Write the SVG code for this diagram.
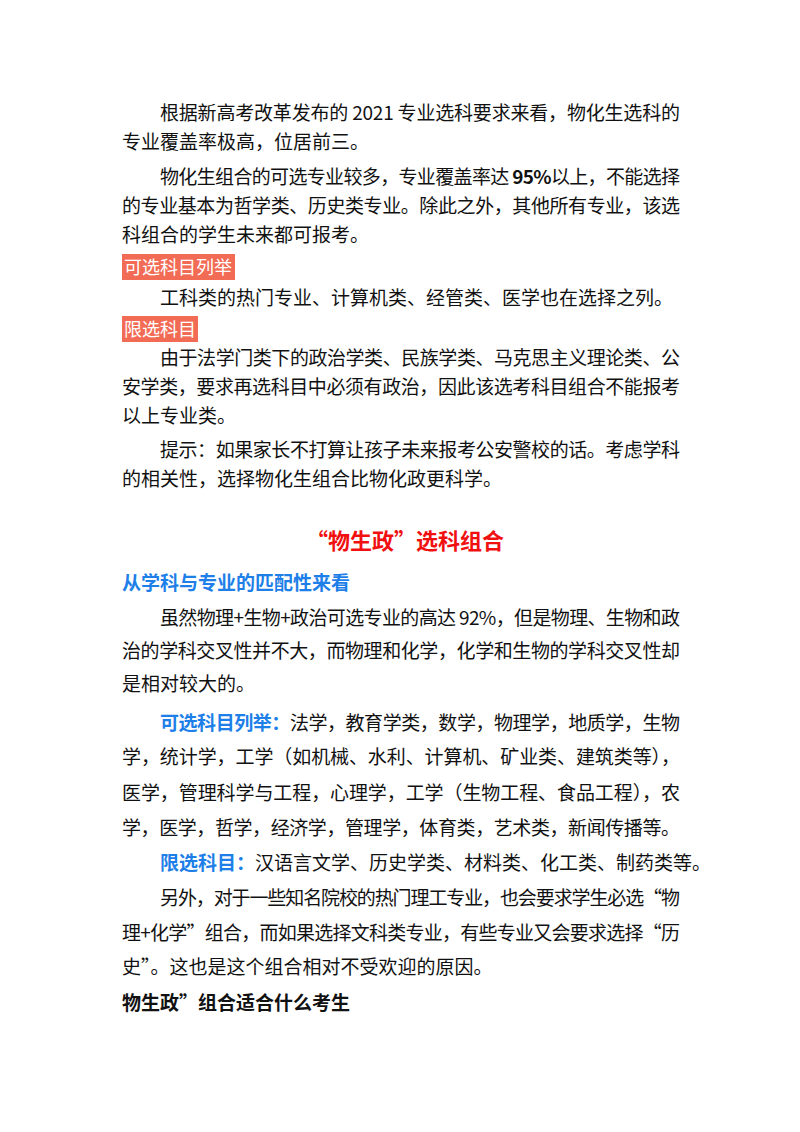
<svg xmlns="http://www.w3.org/2000/svg" width="800" height="1132" viewBox="0 0 800 1132">
<style>
text{font-family:"Noto Sans CJK SC","Liberation Sans",sans-serif;font-size:19px;fill:#111}
.b{font-weight:bold}
.tag{fill:#fff;font-size:18px}
.blue{fill:#1E7FE8;font-weight:bold}
.red{fill:#F01010;font-weight:bold;font-size:22px}
</style>
<rect width="800" height="1132" fill="#fff"/>
<text x="160" y="120" textLength="520" lengthAdjust="spacing">根据新高考改革发布的 2021 专业选科要求来看，物化生选科的</text>
<text x="122" y="149">专业覆盖率极高，位居前三。</text>
<text x="160" y="184" textLength="520" lengthAdjust="spacing">物化生组合的可选专业较多，专业覆盖率达 <tspan class="b">95%</tspan>以上，不能选择</text>
<text x="122" y="213" textLength="558" lengthAdjust="spacing">的专业基本为哲学类、历史类专业。除此之外，其他所有专业，该选</text>
<text x="122" y="242">科组合的学生未来都可报考。</text>
<rect x="122" y="254" width="113" height="26" fill="#F26B55"/>
<text class="tag" x="124" y="274">可选科目列举</text>
<text x="160" y="305">工科类的热门专业、计算机类、经管类、医学也在选择之列。</text>
<rect x="122" y="316" width="76" height="26" fill="#F26B55"/>
<text class="tag" x="124" y="336">限选科目</text>
<text x="160" y="365" textLength="520" lengthAdjust="spacing">由于法学门类下的政治学类、民族学类、马克思主义理论类、公</text>
<text x="122" y="394" textLength="558" lengthAdjust="spacing">安学类，要求再选科目中必须有政治，因此该选考科目组合不能报考</text>
<text x="122" y="423">以上专业类。</text>
<text x="160" y="457" textLength="520" lengthAdjust="spacing">提示：如果家长不打算让孩子未来报考公安警校的话。考虑学科</text>
<text x="122" y="486">的相关性，选择物化生组合比物化政更科学。</text>
<text class="red" x="405" y="549" text-anchor="middle">“物生政”选科组合</text>
<text class="blue" x="122" y="590">从学科与专业的匹配性来看</text>
<text x="160" y="625" textLength="520" lengthAdjust="spacing">虽然物理+生物+政治可选专业的高达 92%，但是物理、生物和政</text>
<text x="122" y="658" textLength="558" lengthAdjust="spacing">治的学科交叉性并不大，而物理和化学，化学和生物的学科交叉性却</text>
<text x="122" y="691">是相对较大的。</text>
<text x="160" y="730" textLength="520" lengthAdjust="spacing"><tspan class="blue">可选科目列举：</tspan>法学，教育学类，数学，物理学，地质学，生物</text>
<text x="122" y="764" textLength="558" lengthAdjust="spacing">学，统计学，工学（如机械、水利、计算机、矿业类、建筑类等），</text>
<text x="122" y="800" textLength="558" lengthAdjust="spacing">医学，管理科学与工程，心理学，工学（生物工程、食品工程），农</text>
<text x="122" y="835" textLength="558" lengthAdjust="spacing">学，医学，哲学，经济学，管理学，体育类，艺术类，新闻传播等。</text>
<text x="160" y="870"><tspan class="blue">限选科目：</tspan>汉语言文学、历史学类、材料类、化工类、制药类等。</text>
<text x="160" y="905" textLength="520" lengthAdjust="spacing">另外，对于一些知名院校的热门理工专业，也会要求学生必选“物</text>
<text x="122" y="940" textLength="558" lengthAdjust="spacing">理+化学”组合，而如果选择文科类专业，有些专业又会要求选择“历</text>
<text x="122" y="974">史”。这也是这个组合相对不受欢迎的原因。</text>
<text class="b" x="122" y="1010">物生政”组合适合什么考生</text>
</svg>
